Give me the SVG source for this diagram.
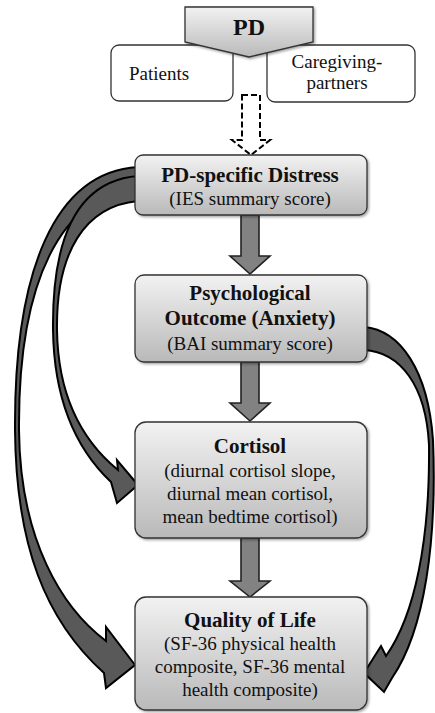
<svg xmlns="http://www.w3.org/2000/svg" width="435" height="713" viewBox="0 0 435 713">
<defs>
<linearGradient id="g" x1="0" y1="0" x2="0" y2="1">
<stop offset="0" stop-color="#f2f2f2"/>
<stop offset="1" stop-color="#b9b9b9"/>
</linearGradient>
<filter id="sh" x="-10%" y="-10%" width="120%" height="130%">
<feDropShadow dx="1.5" dy="1.5" stdDeviation="1" flood-color="#000" flood-opacity="0.35"/>
</filter>
<style>
.box{fill:url(#g);stroke:#333;stroke-width:1.3;filter:url(#sh)}
.wbox{fill:#fff;stroke:#333;stroke-width:1.3}
.sa{fill:#828282;stroke:#222;stroke-width:1.6;stroke-linejoin:miter}
.ca{fill:#595959;stroke:#000;stroke-width:2;stroke-linejoin:miter}
.da{fill:#fff;stroke:#000;stroke-width:2;stroke-dasharray:6,3}
text{font-family:"Liberation Serif","Times New Roman",serif;fill:#111;text-anchor:middle}
.b{font-weight:bold;font-size:21px}
.r{font-size:19px}
</style>
</defs>
<rect width="435" height="713" fill="#fff"/>
<g id="connectors">
<path class="ca" d="M 138,167 C 55,172 14,270 15,430 C 16,545 45,620 104,673 L 106,688 L 135,665 L 106,627 L 106,641 C 62,608 20,540 19,430 C 18,280 62,194 138,189 Z"/>
<path class="ca" d="M 138,176 C 75,181 52,240 53,330 C 54,400 75,448 111,482 L 117,503 L 138,485 L 117,460 L 118,470 C 85,443 58,400 57,330 C 56,252 85,206 138,201 Z"/>
<path class="ca" d="M 364,327 C 400,330 428,370 433,440 C 437,540 425,630 392,678 L 384,692 L 364,673 L 381,646 L 386,656 C 415,615 430,540 429,445 C 426,385 400,352 364,350 Z"/>
<path class="sa" d="M 241,215 L 259,215 L 259,256 L 270,256 L 250,274 L 230,256 L 241,256 Z"/>
<path class="sa" d="M 241,362 L 259,362 L 259,403 L 270,403 L 250,421 L 230,403 L 241,403 Z"/>
<path class="sa" d="M 241,538 L 259,538 L 259,581 L 270,581 L 250,597 L 230,581 L 241,581 Z"/>
<path class="da" d="M 242,95 L 260,95 L 260,140 L 270,140 L 251,155 L 232,140 L 242,140 Z"/>
</g>
<g id="patients">
<rect class="wbox" x="111" y="45" width="122" height="56" rx="8"/>
<text class="r" x="159" y="80">Patients</text>
</g>
<g id="caregiving">
<rect class="wbox" x="267" y="45" width="148" height="57" rx="8"/>
<text class="r" x="337" y="68">Caregiving-</text>
<text class="r" x="337" y="89">partners</text>
</g>
<g id="pd">
<path class="box" d="M 185,7 L 313,7 L 313,42 L 249,57 L 185,42 Z"/>
<text class="b" x="249" y="35" style="font-size:24px">PD</text>
</g>
<g id="distress">
<rect class="box" x="135" y="155" width="232" height="60" rx="8"/>
<text class="b" x="250" y="182">PD-specific Distress</text>
<text class="r" x="250" y="205">(IES summary score)</text>
</g>
<g id="anxiety">
<rect class="box" x="135" y="275" width="232" height="87" rx="9"/>
<text class="b" x="250" y="300">Psychological</text>
<text class="b" x="250" y="325">Outcome (Anxiety)</text>
<text class="r" x="250" y="350">(BAI summary score)</text>
</g>
<g id="cortisol">
<rect class="box" x="135" y="422" width="232" height="116" rx="11"/>
<text class="b" x="250" y="453">Cortisol</text>
<text class="r" x="250" y="477">(diurnal cortisol slope,</text>
<text class="r" x="250" y="500">diurnal mean cortisol,</text>
<text class="r" x="250" y="523">mean bedtime cortisol)</text>
</g>
<g id="qol">
<rect class="box" x="135" y="597" width="232" height="113" rx="11"/>
<text class="b" x="250" y="627">Quality of Life</text>
<text class="r" x="250" y="650">(SF-36 physical health</text>
<text class="r" x="250" y="673">composite, SF-36 mental</text>
<text class="r" x="250" y="696">health composite)</text>
</g>
</svg>
